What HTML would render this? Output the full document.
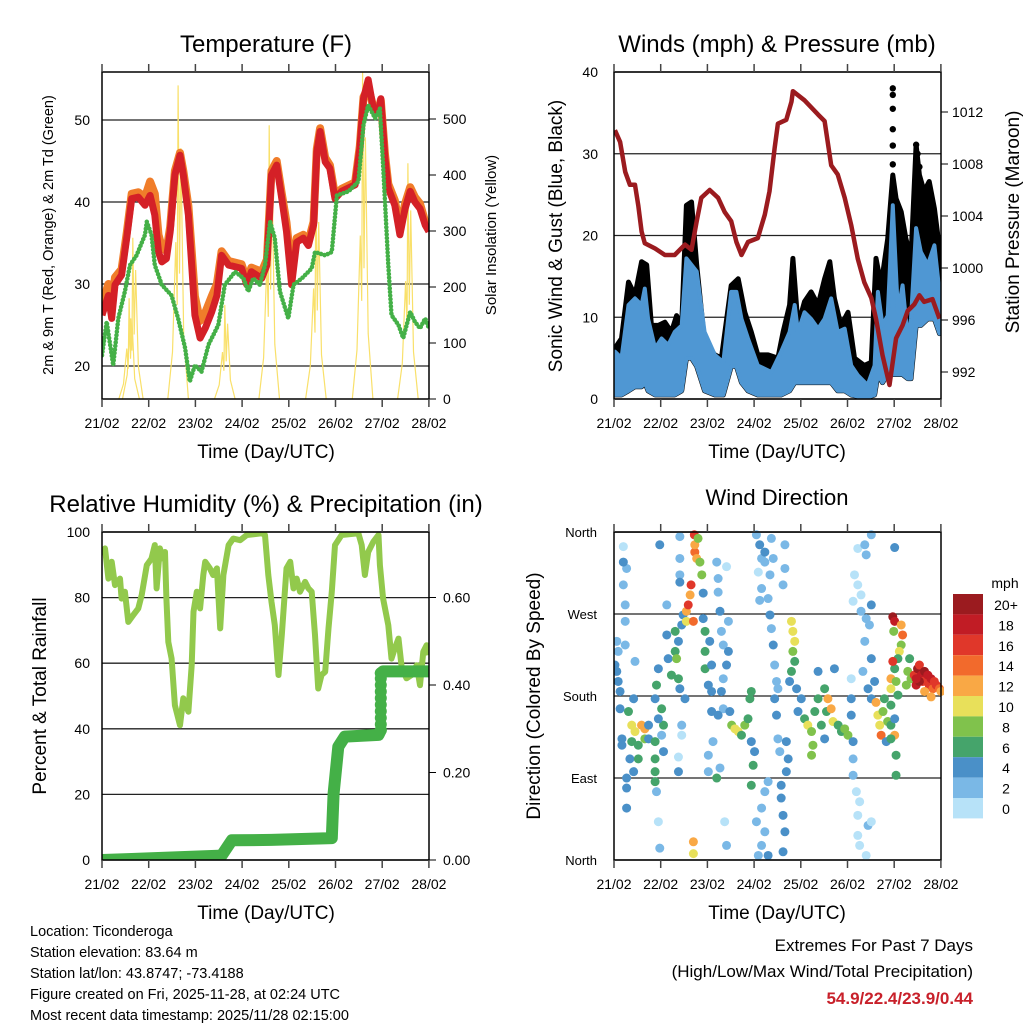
<!DOCTYPE html>
<html><head><meta charset="utf-8">
<style>
body{margin:0;background:#fff;}
svg{display:block;font-family:"Liberation Sans",Arial,sans-serif;}
</style></head>
<body>
<svg id="c" width="1024" height="1024" viewBox="0 0 1024 1024">
<rect width="1024" height="1024" fill="#fff"/>
</svg>
<script>
// ---------- DATA ----------
const dayLabels=["21/02","22/02","23/02","24/02","25/02","26/02","27/02","28/02"];
// Temperature panel
const tempDays=[0,0.136,0.207,0.278,0.42,0.528,0.635,0.778,0.92,1.03,1.13,1.21,1.28,1.38,1.46,1.56,1.67,1.74,1.85,1.92,1.99,2.10,2.21,2.35,2.46,2.56,2.71,2.99,3.10,3.20,3.42,3.53,3.63,3.74,3.85,3.95,4.06,4.17,4.31,4.42,4.53,4.60,4.67,4.78,4.88,4.99,5.13,5.42,5.52,5.60,5.70,5.81,5.92,5.97,6.06,6.13,6.27,6.38,6.49,6.60,6.70,6.81,6.92,7.0];
const tempRed=[26.2,28.6,25.8,29.9,31.1,35.6,40.4,40.6,39.6,40.8,38.4,33.9,32.7,33.1,36.4,43.3,45.7,43.3,38.4,32.3,26.2,23.4,24.6,26.6,28.6,33.5,32.3,31.9,29.9,31.5,30.7,32.3,43.3,44.5,40.4,36.4,29.9,35.1,35.6,34.7,37.2,46.1,48.6,44.9,44.1,40.4,41.3,42.1,46.5,52.6,54.9,51.4,51.0,52.6,45.3,41.7,39.6,36.0,39.2,41.3,40.0,39.2,37.2,36.4];
const tempOrange=[27.5,30.0,27.5,30.8,31.8,36.2,41.0,41.2,40.6,42.5,41.0,36.0,34.5,34.0,37.0,43.8,46.0,43.8,39.5,34.0,28.5,25.5,26.5,28.5,30.0,34.0,32.8,32.4,30.4,32.0,31.5,33.0,43.8,45.0,41.0,37.5,31.5,35.6,36.0,35.2,37.6,46.5,49.0,45.4,44.5,40.8,41.6,42.4,46.8,52.8,54.0,51.6,51.2,52.4,45.8,42.2,40.2,36.8,39.8,41.8,40.6,39.8,37.6,36.8];
const tdDays=[0,0.10,0.24,0.35,0.49,0.60,0.74,0.92,0.96,1.06,1.13,1.28,1.49,1.63,1.78,1.88,1.99,2.13,2.28,2.49,2.63,2.85,3.03,3.13,3.24,3.38,3.49,3.60,3.70,3.81,3.99,4.10,4.28,4.49,4.56,4.78,4.92,5.03,5.28,5.49,5.60,5.70,5.85,5.95,6.02,6.13,6.20,6.35,6.45,6.60,6.70,6.81,6.92,7.0];
const tdVals=[21.3,25.4,20.1,25.8,29.1,32.3,33.5,36.0,37.6,36.0,32.3,29.9,28.6,25.8,22.2,18.1,20.1,19.3,22.6,25.0,29.9,31.5,30.7,29.1,30.7,29.9,32.3,37.6,35.6,29.1,25.8,29.9,30.7,31.9,33.9,33.5,33.9,40.8,41.3,42.5,49.4,51.8,50.2,51.4,44.5,32.3,26.2,25.0,23.4,26.6,25.4,24.6,25.8,24.6];
const solarPeakDays=[0.58,0.66,1.63,2.63,3.58,4.58,5.58,6.55];
const solarPeakVals=[180,288,560,168,489,395,584,421];
// Winds panel
const windDays=[0.02,0.16,0.31,0.45,0.59,0.66,0.73,0.88,1.02,1.16,1.30,1.45,1.55,1.66,1.77,1.94,2.16,2.34,2.51,2.62,2.73,2.87,3.08,3.37,3.58,3.76,3.87,3.94,4.08,4.22,4.37,4.51,4.65,4.79,4.94,5.08,5.22,5.43,5.58,5.65,5.75,5.86,5.97,6.08,6.18,6.29,6.36,6.47,6.57,6.72,6.86,6.97];
const windTop=[5.8,5.0,11.5,12.3,11.5,13.5,9.8,6.2,7.4,6.6,8.2,9.0,17.2,16.4,15.6,8.2,5.4,4.5,13.1,13.1,9.8,7.4,4.1,3.3,5.8,8.2,11.5,8.2,10.6,9.8,8.6,9.8,12.3,8.2,8.6,4.1,2.9,1.7,4.1,13.1,9.0,10.2,23.7,10.6,13.9,7.4,9.8,20.9,18.0,16.4,18.8,13.1];
const windLow=[0.5,0.5,1,1.5,1.5,2,1,0.5,0.5,0.5,0.5,1,5,5,4,1,0.5,0.5,4,4,2,1,0.5,0.5,0.5,1,2,2,2,2,2,2,2,1,1,0.5,0.3,0.2,0.5,3,2,3,3,3,3,2.5,2.5,9,9,9.8,9.8,8];
const gustDays=[0.02,0.16,0.31,0.45,0.59,0.70,0.80,0.95,1.09,1.23,1.34,1.45,1.55,1.66,1.77,1.94,2.16,2.30,2.51,2.66,2.80,2.94,3.08,3.30,3.51,3.62,3.76,3.83,3.94,4.08,4.22,4.37,4.51,4.62,4.72,4.86,5.01,5.15,5.36,5.51,5.61,5.72,5.86,5.97,6.04,6.15,6.25,6.36,6.47,6.54,6.64,6.75,6.86,6.97];
const gustVals=[6.2,7.4,14.3,12.7,16.8,16.4,9.0,9.0,9.4,8.2,10.2,9.0,23.7,24.1,16.4,7.0,5.4,5.0,13.9,14.7,10.6,8.2,5.4,5.4,5.0,8.2,11.5,17.2,9.0,11.9,13.1,11.5,14.7,16.8,12.3,9.0,10.6,5.0,4.1,4.5,17.2,13.9,19.6,27.4,24.5,22.9,19.6,17.2,31.1,27.4,25.4,26.6,23.3,18.4];
const gustOutDays=[5.97,5.97,5.97,5.97,5.97,5.97,6.47,6.54,6.50];
const gustOutVals=[38.0,37.2,35.5,33.0,31.0,28.7,31.1,28.4,30.0];
const presDays=[0.02,0.13,0.24,0.34,0.45,0.52,0.59,0.66,0.88,1.09,1.30,1.52,1.66,1.77,1.87,2.05,2.23,2.37,2.51,2.62,2.73,2.87,3.08,3.23,3.33,3.44,3.51,3.69,3.80,3.83,4.08,4.37,4.51,4.65,4.79,4.94,5.08,5.22,5.36,5.51,5.61,5.75,5.90,6.04,6.18,6.29,6.43,6.54,6.64,6.82,6.97];
const presVals=[1010.6,1009.7,1007.4,1006.4,1006.4,1004.8,1002.8,1001.9,1001.5,1001.0,1001.0,1001.8,1001.4,1003.6,1005.4,1006.0,1005.4,1004.3,1003.6,1002.0,1001.0,1002.0,1002.3,1004.1,1005.9,1009.2,1011.1,1011.4,1012.8,1013.6,1012.9,1011.8,1011.3,1007.9,1007.2,1005.4,1003.3,1000.7,998.9,997.7,996.1,993.3,991.0,994.6,995.6,996.7,997.2,997.9,997.4,997.6,996.1];
// RH / precip panel
const rhDays=[0,0.064,0.136,0.207,0.278,0.385,0.42,0.49,0.564,0.67,0.778,0.85,0.96,1.06,1.13,1.17,1.24,1.31,1.35,1.38,1.42,1.49,1.56,1.67,1.74,1.85,1.92,1.96,2.03,2.10,2.17,2.21,2.31,2.38,2.46,2.53,2.60,2.71,2.81,2.96,3.10,3.42,3.49,3.56,3.63,3.70,3.78,3.85,3.95,4.03,4.10,4.17,4.24,4.35,4.42,4.49,4.56,4.63,4.70,4.78,4.85,4.92,4.99,5.13,5.49,5.56,5.63,5.70,5.81,5.92,5.95,6.02,6.13,6.20,6.27,6.35,6.42,6.52,6.63,6.74,6.81,6.88,6.95,7.0];
const rhVals=[93.0,95.0,85.8,90.9,83.8,85.8,79.7,81.8,72.6,74.7,76.7,80.8,89.9,91.9,96.0,82.8,95.0,91.9,93.9,79.7,66.5,61.4,47.2,41.1,49.3,45.2,59.4,75.7,81.8,76.7,86.9,90.9,88.9,86.9,88.9,70.6,86.9,96.0,98.0,97.5,99.1,99.6,99.1,86.9,78.7,71.6,56.4,68.6,88.9,90.9,82.8,85.8,81.8,84.8,82.8,81.8,68.6,52.3,56.4,57.4,70.6,81.8,96.0,99.1,99.6,96.0,86.9,93.9,97.0,99.1,89.9,79.7,71.6,61.4,64.5,67.5,58.4,55.4,56.4,59.4,53.3,63.5,65.5,62.5];
const prDays=[0,0.56,2.56,2.78,3.63,4.92,4.96,5.06,5.20,5.92,5.97];
const prVals=[0.0,0.002,0.010,0.045,0.046,0.050,0.152,0.259,0.282,0.286,0.297];
const prDotVals=[0.297,0.31,0.325,0.34,0.355,0.37,0.385,0.40,0.415,0.427];
const prLastDays=[5.97,6.02,7.0];
const prLastVals=[0.427,0.431,0.431];
// Wind direction panel
const dirDays=[0.20,0.06,0.09,0.06,0.09,0.13,0.02,0.24,0.24,0.24,0.20,0.27,0.20,0.13,0.17,0.17,0.31,0.38,0.45,0.38,0.34,0.42,0.27,0.27,0.27,0.42,0.45,0.52,0.59,0.66,0.66,0.52,0.74,0.74,0.88,0.91,0.95,1.02,1.06,0.88,0.88,0.88,0.88,0.91,0.95,0.98,0.98,1.13,1.02,1.06,0.95,1.13,1.16,1.23,1.31,1.31,1.34,1.38,1.38,1.45,1.48,1.41,1.41,1.41,1.41,1.45,1.45,1.38,1.38,1.41,1.52,1.55,1.55,1.59,1.63,1.65,1.70,1.72,1.73,1.73,1.77,1.84,1.88,1.80,1.91,1.70,1.70,1.91,1.95,1.95,1.95,2.05,2.09,2.02,2.09,2.09,2.12,2.02,2.02,2.20,2.23,2.23,2.27,2.30,2.34,2.34,2.30,2.34,2.23,2.27,2.20,2.37,2.41,2.41,2.45,2.45,2.41,2.48,2.52,2.59,2.66,2.73,2.80,2.87,2.91,2.94,2.94,2.98,2.94,3.01,3.05,3.12,3.16,3.23,3.09,3.16,3.12,3.23,3.37,3.41,3.34,3.30,3.34,3.37,3.41,3.44,3.48,3.51,3.44,3.48,3.51,3.55,3.66,3.66,3.62,3.69,3.73,3.69,3.58,3.58,3.62,3.66,3.62,3.23,3.16,3.09,3.30,3.05,3.16,3.23,3.30,3.80,3.83,3.87,3.83,3.87,3.80,3.76,3.91,4.01,3.94,4.08,4.15,4.23,4.26,4.23,4.30,4.37,4.44,4.51,4.37,4.51,4.55,4.58,4.65,4.69,4.72,4.80,4.87,4.94,5.01,5.08,5.08,5.12,5.12,5.08,5.12,5.19,5.26,5.22,5.22,5.26,5.40,5.44,5.51,5.22,5.37,5.51,5.40,5.15,5.22,5.29,5.12,5.29,5.40,5.51,5.47,5.37,5.51,5.33,5.58,5.44,5.51,5.61,5.65,5.69,5.72,5.76,5.79,5.86,5.93,5.93,5.83,6.01,6.01,6.04,6.04,5.93,6.01,5.97,6.01,5.99,6.15,6.18,6.15,6.11,6.08,6.01,5.97,5.93,6.04,5.93,6.08,6.26,6.29,6.33,6.36,6.43,6.47,6.50,6.54,6.58,6.61,6.65,6.68,6.72,6.75,6.79,6.83,6.86,6.90,6.97,7.00,6.65,6.79,6.54,6.47];
const dirDeg=[344,240,229,207,196,185,214,280,262,236,302,320,327,166,133,126,163,148,141,130,111,97,90,79,57,177,218,126,148,144,133,111,148,133,177,192,210,166,148,130,111,97,86,75,42,13,346,280,137,119,155,247,221,203,251,229,221,240,199,258,269,331,313,305,355,148,137,113,97,188,177,273,262,280,291,302,262,357,338,346,331,327,313,353,293,20,7,265,251,229,210,240,214,192,185,163,130,115,97,327,309,294,273,251,236,199,185,166,159,101,90,42,16,322,262,229,214,163,148,144,141,137,148,155,177,185,130,104,82,119,357,346,331,327,316,298,285,338,353,331,313,287,269,254,236,214,196,188,177,159,133,119,320,346,302,130,111,97,82,68,49,31,9,31,16,5,5,42,57,75,86,262,251,240,229,218,207,196,188,177,163,155,148,141,126,115,163,177,148,133,207,188,163,177,166,152,210,148,141,144,137,159,177,130,111,199,93,75,64,49,27,16,5,38,42,342,346,357,335,313,302,291,284,273,265,280,258,240,221,207,196,188,177,173,159,148,137,163,177,152,148,170,130,155,137,115,93,133,343,267,262,251,258,247,236,229,221,210,218,199,196,188,181,192,207,221,199,203,192,210,214,203,196,207,196,203,192,199,188,196,192,188,185,185,179,196,199];
const dirSpd=[0,2,1,4,4,4,4,2,2,1,2,2,4,4,4,4,6,10,10,6,4,4,4,4,4,4,2,6,12,12,8,6,4,4,4,6,4,6,6,6,6,6,6,2,0,2,4,2,2,4,4,4,4,6,6,6,8,4,6,4,4,2,2,4,2,2,0,0,4,4,4,12,10,16,12,16,14,16,14,12,12,8,8,8,4,12,10,4,6,6,6,4,4,4,4,4,2,2,2,2,2,2,4,2,2,2,4,2,4,2,6,0,2,0,2,4,4,4,8,10,10,6,8,6,6,6,4,6,6,4,2,4,2,2,0,2,2,4,2,2,2,2,4,2,4,2,2,2,4,4,2,2,2,2,2,4,4,4,4,4,4,4,4,2,2,2,4,2,2,2,2,10,10,10,8,6,6,4,4,4,4,6,10,8,8,8,6,6,6,4,4,6,6,12,12,10,4,6,6,8,8,4,4,4,2,0,2,0,0,0,0,0,0,2,0,0,2,2,2,0,0,0,0,2,2,4,2,2,4,2,4,4,4,12,10,10,14,8,6,8,6,6,4,4,12,6,6,6,4,20,18,8,12,14,8,10,6,6,16,12,8,10,6,8,8,6,8,16,18,20,16,18,16,20,16,18,16,18,14,16,16,14,12,12,12,20,18];
const speedLabels=["0","2","4","6","8","10","12","14","16","18","20+"];
const speedColors=["#b7e2f8","#7ab8e6","#4a90c8","#45a46b","#80c24c","#e8e05a","#f9a845","#f26a2c","#e0372a","#c11c25","#9b1b1f"];
const tempTicks=[20,30,40,50];
const solarTicks=[0,100,200,300,400,500];
const windTicks=[0,10,20,30,40];
const presTicks=[992,996,1000,1004,1008,1012];
const rhTicks=[0,20,40,60,80,100];
const prTicks=[0,0.2,0.4,0.6];
const dirTicks=[0,90,180,270,360];
const dirNames=["North","East","South","West","North"];

// ---------- HELPERS ----------
const svg=document.getElementById('c');
const NS="http://www.w3.org/2000/svg";
function mk(tag,attrs,parent){const e=document.createElementNS(NS,tag);for(const k in attrs)e.setAttribute(k,attrs[k]);(parent||svg).appendChild(e);return e;}
function txt(s,x,y,size,anchor,parent,extra){const t=mk('text',Object.assign({x:x,y:y,'font-size':size,'text-anchor':anchor||'middle',fill:'#000'},extra||{}),parent);t.textContent=s;return t;}
const DAY=46.7;
const xL=d=>102+d*DAY;
const xR=d=>614+d*DAY;
const yT=t=>366-(t-20)*8.2;
const ySol=s=>399-s*0.56;
const yW=w=>399-w*8.175;
const yP=p=>320-(p-996)*13;
const yRH=r=>860-r*3.28;
const yPr=p=>860-p*437.5;
const yDir=g=>860-g*0.911;
function pts(ds,vs,fx,fy){return ds.map((d,i)=>fx(d).toFixed(1)+','+fy(vs[i]).toFixed(1)).join(' ');}
function clip(id,x,y,w,h){const cp=mk('clipPath',{id:id});mk('rect',{x:x,y:y,width:w,height:h},cp);}

function frame(g,x0,y0,w,h,xf){
  mk('rect',{x:x0,y:y0,width:w,height:h,fill:'none',stroke:'#000','stroke-width':1.5},g);
  dayLabels.forEach((lab,i)=>{
    const x=xf(i);
    mk('line',{x1:x,y1:y0+h,x2:x,y2:y0+h+8,stroke:'#444','stroke-width':1.5},g);
    mk('line',{x1:x,y1:y0,x2:x,y2:y0-8,stroke:'#444','stroke-width':1.5},g);
    const t=txt(lab,x,y0+h+29,14,'middle',g);
    
    
  });
}

// ---------- PANEL 1 : TEMPERATURE ----------
(function(){
  const g=mk('g',{});
  
  
  clip('cp1',102,72,327,327);
  tempTicks.forEach(t=>{mk('line',{x1:102,x2:429,y1:yT(t),y2:yT(t),stroke:'#222','stroke-width':1.3},g);
    const l=txt(String(t),90,yT(t)+5,14,'end',g);});
  solarTicks.forEach(s=>{mk('line',{x1:429,x2:436,y1:ySol(s),y2:ySol(s),stroke:'#000'},g);
    const l=txt(String(s),443,ySol(s)+5,14,'start',g);});
  const pg=mk('g',{'clip-path':'url(#cp1)'},g);
  solarPeakDays.forEach((p,i)=>{const v=solarPeakVals[i];
    const sh=[[-0.22,0],[-0.12,0.15],[-0.05,0.5],[-0.02,0.3],[0,1],[0.03,0.4],[0.06,0.8],[0.12,0.2],[0.22,0]];
    const pl=mk('polyline',{points:sh.map(s=>xL(p+s[0]).toFixed(1)+','+ySol(v*s[1]).toFixed(1)).join(' '),fill:'none',stroke:'#f9e06a','stroke-width':1.2},pg);
    });
  const o=mk('polyline',{points:pts(tempDays,tempOrange,xL,yT),fill:'none',stroke:'#f07d2a','stroke-width':8,'stroke-linejoin':'round'},pg);
  
  const r=mk('polyline',{points:pts(tempDays,tempRed,xL,yT),fill:'none',stroke:'#d42027','stroke-width':7,'stroke-linejoin':'round'},pg);
  
  const gr=mk('polyline',{points:pts(tdDays,tdVals,xL,yT),fill:'none',stroke:'#44b047','stroke-width':4.5,'stroke-linejoin':'round','stroke-dasharray':'0.1 3.5','stroke-linecap':'round'},pg);
  
  frame(g,102,72,327,327,xL);
  const t=txt('Temperature (F)',266,52,24,'middle',g);
  const yl=txt('2m & 9m T (Red, Orange) & 2m Td (Green)',0,0,14.5,'middle',g,{transform:'translate(53,235) rotate(-90)'});
  const yr=txt('Solar Insolation (Yellow)',0,0,15,'middle',g,{transform:'translate(496,235) rotate(-90)'});
  const xl=txt('Time (Day/UTC)',266,458,19,'middle',g);
})();

// ---------- PANEL 2 : WINDS ----------
(function(){
  const g=mk('g',{});
  
  
  clip('cp2',614,72,327,327);
  windTicks.forEach(w=>{mk('line',{x1:614,x2:941,y1:yW(w),y2:yW(w),stroke:'#222','stroke-width':1.3},g);
    const l=txt(String(w),598,yW(w)+5,14,'end',g);});
  presTicks.forEach(p=>{mk('line',{x1:941,x2:948,y1:yP(p),y2:yP(p),stroke:'#000'},g);
    const l=txt(String(p),952,yP(p)+5,14,'start',g);});
  const pg=mk('g',{'clip-path':'url(#cp2)'},g);
  const lowRev=windDays.map((d,i)=>xR(d).toFixed(1)+','+yW(windLow[i]).toFixed(1)).reverse().join(' ');
  const gb=mk('polygon',{points:pts(gustDays,gustVals,xR,yW)+' '+lowRev,fill:'#000',stroke:'#000','stroke-width':5,'stroke-linejoin':'round'},pg);
  
  gustOutDays.forEach((d,i)=>{const c=mk('circle',{cx:xR(d),cy:yW(gustOutVals[i]),r:3.2,fill:'#000'},pg);
    });
  const bb=mk('polygon',{points:pts(windDays,windTop,xR,yW)+' '+lowRev,fill:'#4f97d3',stroke:'#4f97d3','stroke-width':4,'stroke-linejoin':'round'},pg);
  
  const pl=mk('polyline',{points:pts(presDays,presVals,xR,yP),fill:'none',stroke:'#9b1b1f','stroke-width':4.5,'stroke-linejoin':'round'},pg);
  
  frame(g,614,72,327,327,xR);
  const t=txt('Winds (mph) & Pressure (mb)',777,52,24,'middle',g);
  const yl=txt('Sonic Wind & Gust (Blue, Black)',0,0,19,'middle',g,{transform:'translate(562,236) rotate(-90)'});
  const yr=txt('Station Pressure (Maroon)',0,0,19,'middle',g,{transform:'translate(1019,222) rotate(-90)'});
  const xl=txt('Time (Day/UTC)',777,458,19,'middle',g);
})();

// ---------- PANEL 3 : RH & PRECIP ----------
(function(){
  const g=mk('g',{});
  
  
  clip('cp3',102,532,327,328);
  rhTicks.forEach(r=>{mk('line',{x1:102,x2:429,y1:yRH(r),y2:yRH(r),stroke:'#222','stroke-width':1.3},g);
    const l=txt(String(r),90,yRH(r)+5,14,'end',g);});
  prTicks.forEach(p=>{mk('line',{x1:429,x2:436,y1:yPr(p),y2:yPr(p),stroke:'#000'},g);
    const l=txt(p.toFixed(2),443,yPr(p)+5,14,'start',g);});
  const pg=mk('g',{'clip-path':'url(#cp3)'},g);
  const rh=mk('polyline',{points:pts(rhDays,rhVals,xL,yRH),fill:'none',stroke:'#92c94c','stroke-width':6,'stroke-linejoin':'round'},pg);
  
  const pr=mk('polyline',{points:pts(prDays,prVals,xL,yPr),fill:'none',stroke:'#44b047','stroke-width':12,'stroke-linejoin':'round','stroke-linecap':'round'},pg);
  
  prDotVals.forEach(v=>{const c=mk('circle',{cx:xL(5.97),cy:yPr(v),r:6,fill:'#44b047'},pg);
    });
  const pr2=mk('polyline',{points:pts(prLastDays,prLastVals,xL,yPr),fill:'none',stroke:'#44b047','stroke-width':12,'stroke-linejoin':'round','stroke-linecap':'round'},pg);
  
  frame(g,102,532,327,328,xL);
  const t=txt('Relative Humidity (%) & Precipitation (in)',266,512,24,'middle',g);
  const yl=txt('Percent & Total Rainfall',0,0,19,'middle',g,{transform:'translate(46,696) rotate(-90)'});
  const xl=txt('Time (Day/UTC)',266,919,19,'middle',g);
})();

// ---------- PANEL 4 : WIND DIRECTION ----------
(function(){
  const g=mk('g',{});
  
  
  clip('cp4',614,528,330,336);
  dirTicks.forEach((d,i)=>{mk('line',{x1:614,x2:941,y1:yDir(d),y2:yDir(d),stroke:'#222','stroke-width':1.3},g);
    const l=txt(dirNames[i],597,yDir(d)+5,13,'end',g);});
  const pg=mk('g',{'clip-path':'url(#cp4)'},g);
  dirDays.forEach((d,i)=>{const k=Math.min(10,Math.round(dirSpd[i]/2));
    const c=mk('circle',{cx:xR(d),cy:yDir(dirDeg[i]),r:4.5,fill:speedColors[k]},pg);
    });
  frame(g,614,532,327,328,xR);
  const t=txt('Wind Direction',777,505,22,'middle',g);
  const yl=txt('Direction (Colored By Speed)',0,0,19,'middle',g,{transform:'translate(540,696) rotate(-90)'});
  const xl=txt('Time (Day/UTC)',777,919,19,'middle',g);
  const cb=mk('g',{},g);
  
  
  const m=txt('mph',1005,588,14,'middle',cb);
  for(let i=0;i<speedColors.length;i++){
    const k=10-i;const y=594+i*20.4;
    const rc=mk('rect',{x:953,y:y,width:30,height:20.4,fill:speedColors[k]},cb);
    
    const l=txt(speedLabels[k],1006,y+16,14,'middle',cb);
  }
})();

// ---------- FOOTER TEXT ----------
(function(){
  const g=mk('g',{});
  
  
  const lines=["Location: Ticonderoga","Station elevation: 83.64 m","Station lat/lon: 43.8747; -73.4188","Figure created on Fri, 2025-11-28, at 02:24 UTC","Most recent data timestamp: 2025/11/28 02:15:00"];
  lines.forEach((s,i)=>{const t=txt(s,30,936+i*21,14.5,'start',g);});
  const e=mk('g',{});
  
  
  const a=txt('Extremes For Past 7 Days',973,951,17,'end',e);
  const b=txt('(High/Low/Max Wind/Total Precipitation)',973,977,17,'end',e);
  const c=txt('54.9/22.4/23.9/0.44',973,1004,17,'end',e,{fill:'#c8202a','font-weight':'bold'});
})();
</script>
</body></html>
